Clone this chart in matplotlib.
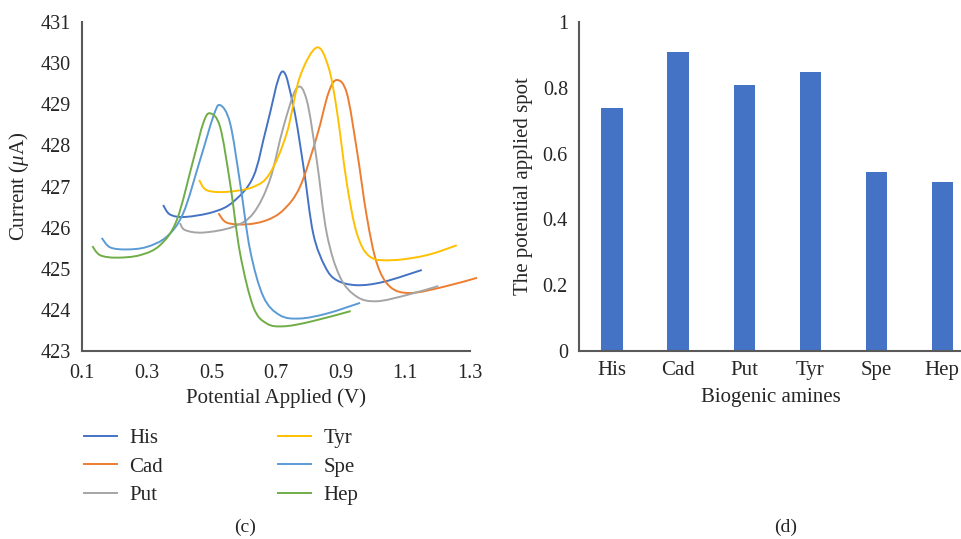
import numpy as np
import matplotlib
matplotlib.use("Agg")
import matplotlib.pyplot as plt
from matplotlib.path import Path
from matplotlib.patches import PathPatch
from matplotlib.lines import Line2D

plt.rcParams['font.family'] = ['Liberation Serif', 'DejaVu Serif']
plt.rcParams['mathtext.fontset'] = 'custom'
plt.rcParams['mathtext.it'] = 'Liberation Serif:italic'
plt.rcParams['mathtext.rm'] = 'Liberation Serif'

# ---------------- data: panel (c) ----------------
his_v = [0.351, 0.372, 0.419, 0.506, 0.568, 0.630, 0.671, 0.718, 0.754, 0.785, 0.815, 0.852, 0.888, 0.950, 1.032, 1.151]
his_i = [426.55, 426.32, 426.26, 426.38, 426.63, 427.24, 428.45, 429.79, 428.94, 427.48, 425.86, 425.05, 424.72, 424.60, 424.68, 424.97]

cad_v = [0.522, 0.548, 0.609, 0.671, 0.723, 0.774, 0.826, 0.862, 0.888, 0.919, 0.950, 0.981, 1.012, 1.053, 1.115, 1.218, 1.322]
cad_i = [426.35, 426.12, 426.08, 426.18, 426.43, 426.99, 428.21, 429.27, 429.59, 429.27, 427.89, 426.26, 425.13, 424.56, 424.41, 424.56, 424.78]

put_v = [0.403, 0.419, 0.475, 0.568, 0.630, 0.681, 0.723, 0.764, 0.795, 0.826, 0.857, 0.898, 0.950, 1.012, 1.104, 1.202]
put_i = [426.11, 425.94, 425.88, 426.02, 426.35, 427.16, 428.45, 429.39, 429.10, 427.64, 425.86, 424.80, 424.32, 424.21, 424.36, 424.58]

tyr_v = [0.462, 0.486, 0.548, 0.630, 0.681, 0.733, 0.774, 0.826, 0.862, 0.888, 0.919, 0.950, 0.991, 1.063, 1.166, 1.259]
tyr_i = [427.16, 426.91, 426.87, 426.99, 427.32, 428.29, 429.67, 430.38, 429.91, 428.86, 427.08, 425.86, 425.29, 425.21, 425.33, 425.57]

spe_v = [0.161, 0.187, 0.238, 0.300, 0.362, 0.413, 0.465, 0.506, 0.527, 0.558, 0.589, 0.620, 0.661, 0.712, 0.774, 0.857, 0.960]
spe_i = [425.75, 425.52, 425.47, 425.53, 425.78, 426.35, 427.64, 428.70, 428.98, 428.54, 427.08, 425.45, 424.32, 423.87, 423.79, 423.91, 424.17]

hep_v = [0.132, 0.156, 0.207, 0.279, 0.341, 0.393, 0.444, 0.475, 0.496, 0.527, 0.558, 0.589, 0.630, 0.671, 0.723, 0.805, 0.931]
hep_i = [425.55, 425.33, 425.27, 425.33, 425.57, 426.18, 427.64, 428.54, 428.78, 428.45, 427.08, 425.37, 424.07, 423.67, 423.60, 423.71, 423.97]

series_names = ["His", "Cad", "Put", "Tyr", "Spe", "Hep"]
series_colors = ["#4472C4", "#ED7D31", "#A5A5A5", "#FFC000", "#5B9BD5", "#70AD47"]
series_data = [(his_v, his_i), (cad_v, cad_i), (put_v, put_i),
               (tyr_v, tyr_i), (spe_v, spe_i), (hep_v, hep_i)]

# ---------------- data: panel (d) ----------------
amines = ["His", "Cad", "Put", "Tyr", "Spe", "Hep"]
spot = [0.739, 0.909, 0.809, 0.848, 0.544, 0.514]

axis_color = "#595959"
text_color = "#262626"
fs_tick = 14.5
fs = 15

fig = plt.figure(figsize=(9.62, 5.39), dpi=100)


def smooth_path(ax, xs, ys, color, lw=1.4):
    """Excel-like smoothed line: Catmull-Rom segments drawn as cubic Bezier
    curves through the given data points."""
    pts = ax.transData.transform(np.column_stack([xs, ys]))
    n = len(pts)
    verts = [pts[0]]
    codes = [Path.MOVETO]
    t = 1.0 / 6.0
    for k in range(n - 1):
        p0 = pts[k - 1] if k > 0 else pts[k]
        p1 = pts[k]
        p2 = pts[k + 1]
        p3 = pts[k + 2] if k + 2 < n else pts[k + 1]
        c1 = p1 + (p2 - p0) * t
        c2 = p2 - (p3 - p1) * t
        verts += [c1, c2, p2]
        codes += [Path.CURVE4] * 3
    path = Path(verts, codes)
    patch = PathPatch(path, facecolor="none", edgecolor=color, lw=lw,
                      transform=None, clip_on=False)
    ax.add_artist(patch)


# ---------------- left panel ----------------
ax1 = fig.add_axes([82 / 962, 1 - 351 / 539, 388 / 962, 329 / 539])
ax1.set_xlim(0.1, 1.3)
ax1.set_ylim(423, 431)
ax1.set_xticks([0.1, 0.3, 0.5, 0.7, 0.9, 1.1, 1.3])
ax1.set_xticklabels(["0.1", "0.3", "0.5", "0.7", "0.9", "1.1", "1.3"])
ax1.set_yticks(range(423, 432))
for s in ["top", "right"]:
    ax1.spines[s].set_visible(False)
for s in ["left", "bottom"]:
    ax1.spines[s].set_color(axis_color)
    ax1.spines[s].set_linewidth(1.5)
ax1.tick_params(length=0, labelsize=fs_tick, colors=text_color, pad=8)
ax1.tick_params(axis="x", pad=9)
ax1.set_xlabel("Potential Applied (V)", fontsize=fs, color=text_color, labelpad=4)
ax1.set_ylabel(r"Current ($\mu$A)", fontsize=fs, color=text_color, labelpad=7)

fig.canvas.draw()
for (xs, ys), c in zip(series_data, series_colors):
    smooth_path(ax1, xs, ys, c)

handles = [Line2D([0], [0], color=c, lw=1.4) for c in series_colors]
leg = fig.legend(handles, series_names, ncol=2, frameon=False,
                 loc="upper left", bbox_to_anchor=(65 / 962, 1 - 410 / 539),
                 fontsize=fs, handlelength=1.6, handletextpad=0.6,
                 columnspacing=5.5, labelspacing=0.42)
for t in leg.get_texts():
    t.set_color(text_color)

# ---------------- right panel ----------------
ax2 = fig.add_axes([579 / 962, 1 - 351 / 539, 383 / 962, 329 / 539])
x = np.arange(len(amines))
ax2.bar(x, spot, width=0.32, color="#4472C4")
ax2.set_xlim(-0.5, 5.30)
ax2.set_ylim(0, 1)
ax2.set_xticks(x)
ax2.set_xticklabels(amines)
ax2.set_yticks([0, 0.2, 0.4, 0.6, 0.8, 1.0])
ax2.set_yticklabels(["0", "0.2", "0.4", "0.6", "0.8", "1"])
for s in ["top", "right"]:
    ax2.spines[s].set_visible(False)
for s in ["left", "bottom"]:
    ax2.spines[s].set_color(axis_color)
    ax2.spines[s].set_linewidth(1.5)
ax2.tick_params(length=0, labelsize=fs_tick, colors=text_color, pad=8)
ax2.tick_params(axis="x", labelsize=fs, pad=7)
ax2.set_xlabel("Biogenic amines", fontsize=fs, color=text_color, labelpad=6)
ax2.set_ylabel("The potential applied spot", fontsize=fs, color=text_color, labelpad=7)

# panel labels
fig.text(245 / 962, 1 - 527 / 539, "(c)", fontsize=fs - 1, color=text_color,
         ha="center", va="center")
fig.text(786 / 962, 1 - 527 / 539, "(d)", fontsize=fs - 1, color=text_color,
         ha="center", va="center")

fig.savefig("out.png", dpi=100)
